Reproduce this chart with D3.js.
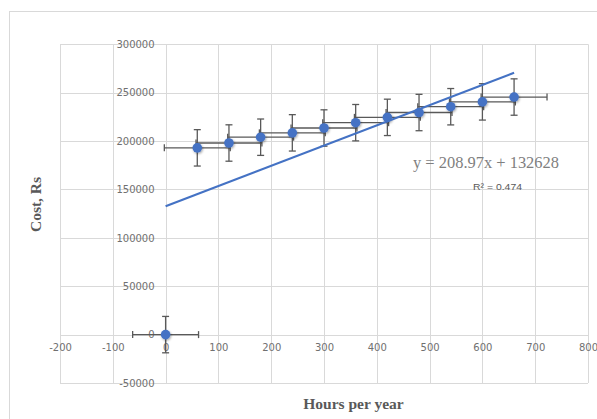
<!DOCTYPE html>
<html>
<head>
<meta charset="utf-8">
<script src="https://cdn.jsdelivr.net/npm/d3@7"></script>
<style>
  html, body { margin: 0; padding: 0; background: #ffffff; }
  svg { display: block; }
</style>
</head>
<body>
<svg id="chart" width="597" height="419"></svg>
<script>
// ---- data ----
const hours = [0, 60, 120, 180, 240, 300, 360, 420, 480, 540, 600, 660];
const cost  = [0, 193000, 198000, 204000, 208500, 213500, 219000, 224500, 229500, 235500, 240500, 245500];
const xErr = [62.4];            // standard error on hours
const yErr = [18800];           // standard error on cost
const trend = [208.97, 132628]; // slope, intercept
const xTicks = [-200, -100, 0, 100, 200, 300, 400, 500, 600, 700, 800];
const yTicks = [-50000, 0, 50000, 100000, 150000, 200000, 250000, 300000];
const eqLabel = "y = 208.97x + 132628";
const r2Label = "R\u00B2 = 0.474";

const svg = d3.select("#chart");
const W = 597, H = 419;

// outer chart border (cropped on right/bottom)
svg.append("rect").attr("x", 9.5).attr("y", 11.5).attr("width", W).attr("height", H)
  .attr("fill", "#fff").attr("stroke", "#d9d9d9").attr("stroke-width", 1);

const x = d3.scaleLinear().domain([-200, 800]).range([60, 588]);
const y = d3.scaleLinear().domain([-50000, 300000]).range([383, 44.3]);
const fmt = d => String(d); // plain hyphen-minus like the reference

const defs = svg.append("defs");
const f = defs.append("filter").attr("id", "shadow").attr("x", "-50%").attr("y", "-50%").attr("width", "200%").attr("height", "200%");
f.append("feDropShadow").attr("dx", 0.8).attr("dy", 1.2).attr("stdDeviation", 0.9)
  .attr("flood-color", "#000").attr("flood-opacity", 0.35);

const grid = svg.append("g");
grid.selectAll("line.v").data(xTicks).enter().append("line")
  .attr("x1", d => Math.round(x(d)) + 0.5).attr("x2", d => Math.round(x(d)) + 0.5)
  .attr("y1", y(300000)).attr("y2", y(-50000))
  .attr("stroke", "#d9d9d9").attr("stroke-width", 1);
grid.selectAll("line.h").data(yTicks).enter().append("line")
  .attr("y1", d => Math.round(y(d)) + 0.5).attr("y2", d => Math.round(y(d)) + 0.5)
  .attr("x1", x(-200)).attr("x2", x(800))
  .attr("stroke", "#d9d9d9").attr("stroke-width", 1);

// y tick labels
const yAxis = d3.axisLeft(y).tickValues(yTicks).tickSize(0).tickPadding(0).tickFormat(fmt);
const gy = svg.append("g").attr("transform", `translate(${x(0) - 11},0)`).call(yAxis);
gy.select(".domain").remove();
gy.selectAll("text").attr("font-family", "DejaVu Sans").attr("font-size", 10).attr("fill", "#707070");

// x tick labels
const xAxis = d3.axisBottom(x).tickValues(xTicks).tickSize(0).tickPadding(0).tickFormat(fmt);
const gx = svg.append("g").attr("transform", `translate(0,${y(0) + 13})`).call(xAxis);
gx.select(".domain").remove();
gx.selectAll("text").attr("font-family", "DejaVu Sans").attr("font-size", 10).attr("fill", "#707070")
  .attr("dy", "0.35em");

const pts = hours.map((h, i) => ({ h, c: cost[i] }));

// error bars
const eb = svg.append("g").attr("stroke", "#595959").attr("stroke-width", 1.3).attr("fill", "none");
const cap = 3.5;
pts.forEach(p => {
  const cx = x(p.h), cy = y(p.c);
  const xl = x(p.h - xErr[0]), xr = x(p.h + xErr[0]);
  const yt = y(p.c + yErr[0]), yb = y(p.c - yErr[0]);
  eb.append("line").attr("x1", xl).attr("x2", xr).attr("y1", cy).attr("y2", cy);
  eb.append("line").attr("x1", xl).attr("x2", xl).attr("y1", cy - cap).attr("y2", cy + cap);
  eb.append("line").attr("x1", xr).attr("x2", xr).attr("y1", cy - cap).attr("y2", cy + cap);
  eb.append("line").attr("x1", cx).attr("x2", cx).attr("y1", yt).attr("y2", yb);
  eb.append("line").attr("x1", cx - cap).attr("x2", cx + cap).attr("y1", yt).attr("y2", yt);
  eb.append("line").attr("x1", cx - cap).attr("x2", cx + cap).attr("y1", yb).attr("y2", yb);
});

// markers
svg.append("g").selectAll("circle").data(pts).enter().append("circle")
  .attr("cx", d => x(d.h)).attr("cy", d => y(d.c)).attr("r", 4.8)
  .attr("fill", "#4472C4").attr("filter", "url(#shadow)");

// trendline
const x0 = d3.min(hours), x1 = d3.max(hours);
svg.append("line")
  .attr("x1", x(x0)).attr("y1", y(trend[0] * x0 + trend[1]))
  .attr("x2", x(x1)).attr("y2", y(trend[0] * x1 + trend[1]))
  .attr("stroke", "#4472C4").attr("stroke-width", 2.2);

// equation + R²
svg.append("text").attr("x", 413).attr("y", 168.3)
  .attr("font-family", "Liberation Serif").attr("font-size", 16).attr("fill", "#7f7f7f")
  .attr("textLength", 146).attr("lengthAdjust", "spacingAndGlyphs")
  .text(eqLabel);
svg.append("text").attr("x", 473).attr("y", 189.5)
  .attr("font-family", "Liberation Sans").attr("font-size", 9.5).attr("fill", "#595959")
  .attr("textLength", 49).attr("lengthAdjust", "spacingAndGlyphs")
  .text(r2Label);

// axis titles
svg.append("text").attr("transform", `translate(41,204.5) rotate(-90)`)
  .attr("text-anchor", "middle")
  .attr("font-family", "Liberation Serif").attr("font-weight", "bold").attr("font-size", 15.5)
  .attr("fill", "#595959").text("Cost, Rs");
svg.append("text").attr("x", 353.5).attr("y", 408.5).attr("text-anchor", "middle")
  .attr("font-family", "Liberation Serif").attr("font-weight", "bold").attr("font-size", 15.5)
  .attr("fill", "#595959").text("Hours per year");
</script>
</body>
</html>
